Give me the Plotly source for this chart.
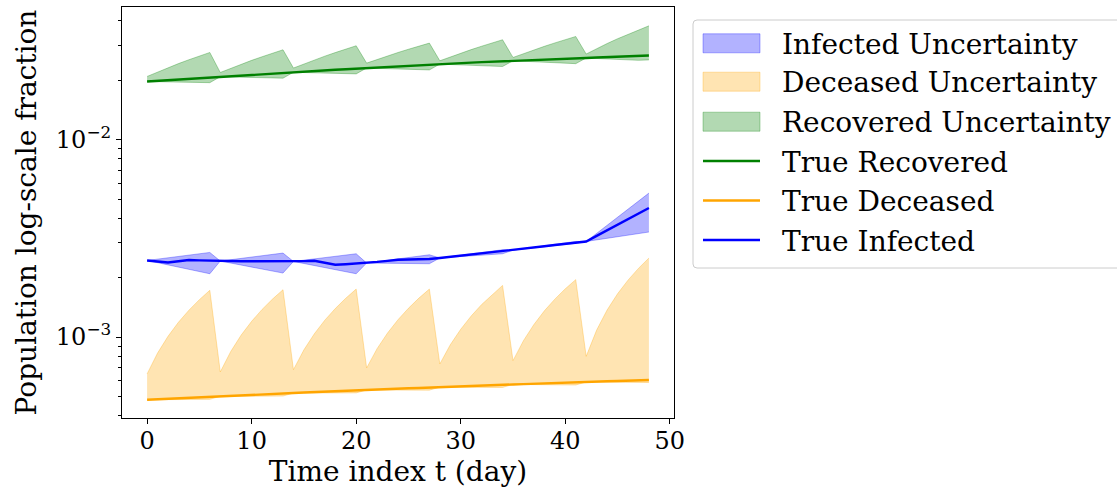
import plotly.graph_objects as go

days = list(range(49))

true_recovered = [
    0.01974, 0.01990, 0.02006, 0.02022, 0.02038, 0.02055, 0.02071,
    0.02087, 0.02103, 0.02119, 0.02135, 0.02151, 0.02167, 0.02183,
    0.02199, 0.02215, 0.02231, 0.02247, 0.02263, 0.02279, 0.02295,
    0.02311, 0.02327, 0.02343, 0.02358, 0.02373, 0.02388, 0.02403,
    0.02418, 0.02432, 0.02446, 0.02460, 0.02474, 0.02488, 0.02501,
    0.02514, 0.02527, 0.02539, 0.02551, 0.02563, 0.02575, 0.02586,
    0.02597, 0.02610, 0.02622, 0.02635, 0.02648, 0.02660, 0.02673]

recovered_upper = [
    0.02094, 0.02207, 0.02319, 0.02432, 0.02545, 0.02657, 0.02770,
    0.02193, 0.02304, 0.02415, 0.02526, 0.02636, 0.02747, 0.02858,
    0.02310, 0.02424, 0.02538, 0.02653, 0.02767, 0.02881, 0.02995,
    0.02447, 0.02554, 0.02661, 0.02769, 0.02876, 0.02983, 0.03090,
    0.02514, 0.02631, 0.02747, 0.02864, 0.02980, 0.03097, 0.03213,
    0.02614, 0.02735, 0.02855, 0.02976, 0.03097, 0.03217, 0.03338,
    0.02720, 0.02897, 0.03074, 0.03251, 0.03427, 0.03604, 0.03781]

recovered_lower = [
    0.01974, 0.01970, 0.01966, 0.01961, 0.01956, 0.01952, 0.01947,
    0.02087, 0.02082, 0.02077, 0.02071, 0.02065, 0.02059, 0.02052,
    0.02199, 0.02193, 0.02186, 0.02180, 0.02172, 0.02165, 0.02157,
    0.02311, 0.02304, 0.02296, 0.02287, 0.02278, 0.02269, 0.02259,
    0.02418, 0.02408, 0.02397, 0.02386, 0.02375, 0.02364, 0.02351,
    0.02514, 0.02502, 0.02488, 0.02474, 0.02460, 0.02446, 0.02431,
    0.02597, 0.02584, 0.02570, 0.02556, 0.02542, 0.02527, 0.02540]

true_infected = [
    0.002444, 0.002416, 0.002388, 0.002422, 0.002456, 0.002446, 0.002436,
    0.002427, 0.002425, 0.002423, 0.002421, 0.002419, 0.002417, 0.002416,
    0.002416, 0.002426, 0.002436, 0.002380, 0.002325, 0.002340, 0.002356,
    0.002372, 0.002403, 0.002434, 0.002465, 0.002472, 0.002478, 0.002485,
    0.002517, 0.002550, 0.002583, 0.002616, 0.002649, 0.002683, 0.002716,
    0.002757, 0.002798, 0.002840, 0.002883, 0.002927, 0.002971, 0.003016,
    0.003051, 0.003256, 0.003475, 0.003708, 0.003958, 0.004224, 0.004506]

infected_upper = [
    0.002444, 0.002482, 0.002521, 0.002561, 0.002602, 0.002643, 0.002684,
    0.002427, 0.002465, 0.002504, 0.002544, 0.002584, 0.002624, 0.002665,
    0.002416, 0.002452, 0.002489, 0.002527, 0.002565, 0.002604, 0.002643,
    0.002372, 0.002410, 0.002449, 0.002489, 0.002529, 0.002570, 0.002612,
    0.002517, 0.002558, 0.002599, 0.002640, 0.002683, 0.002726, 0.002770,
    0.002757, 0.002804, 0.002851, 0.002900, 0.002950, 0.003001, 0.003052,
    0.003051, 0.003352, 0.003683, 0.004047, 0.004446, 0.004885, 0.005367]

infected_lower = [
    0.002444, 0.002382, 0.002321, 0.002262, 0.002204, 0.002148, 0.002093,
    0.002427, 0.002371, 0.002316, 0.002263, 0.002211, 0.002160, 0.002110,
    0.002416, 0.002359, 0.002303, 0.002249, 0.002196, 0.002144, 0.002093,
    0.002372, 0.002369, 0.002365, 0.002362, 0.002359, 0.002355, 0.002352,
    0.002517, 0.002538, 0.002558, 0.002579, 0.002600, 0.002622, 0.002643,
    0.002757, 0.002793, 0.002830, 0.002868, 0.002907, 0.002946, 0.002986,
    0.003051, 0.003107, 0.003165, 0.003224, 0.003283, 0.003344, 0.003406]

true_deceased = [
    0.000481, 0.000484, 0.000487, 0.000490, 0.000493, 0.000495, 0.000498,
    0.000501, 0.000504, 0.000507, 0.000509, 0.000512, 0.000515, 0.000518,
    0.000520, 0.000523, 0.000526, 0.000529, 0.000531, 0.000534, 0.000537,
    0.000539, 0.000542, 0.000545, 0.000547, 0.000550, 0.000552, 0.000555,
    0.000557, 0.000560, 0.000562, 0.000565, 0.000567, 0.000570, 0.000572,
    0.000575, 0.000577, 0.000580, 0.000582, 0.000585, 0.000587, 0.000589,
    0.000592, 0.000594, 0.000597, 0.000599, 0.000601, 0.000604, 0.000606]

deceased_upper = [
    0.000650, 0.000829, 0.001008, 0.001188, 0.001367, 0.001546, 0.001725,
    0.000665, 0.000844, 0.001023, 0.001201, 0.001380, 0.001558, 0.001737,
    0.000683, 0.000861, 0.001039, 0.001217, 0.001394, 0.001572, 0.001750,
    0.000697, 0.000873, 0.001048, 0.001224, 0.001399, 0.001575, 0.001750,
    0.000730, 0.000913, 0.001095, 0.001278, 0.001461, 0.001643, 0.001826,
    0.000759, 0.000958, 0.001157, 0.001357, 0.001556, 0.001755, 0.001954,
    0.000798, 0.001084, 0.001370, 0.001656, 0.001942, 0.002228, 0.002514]

deceased_lower = [
    0.000481, 0.000482, 0.000482, 0.000483, 0.000483, 0.000483, 0.000483,
    0.000501, 0.000501, 0.000502, 0.000501, 0.000502, 0.000502, 0.000502,
    0.000520, 0.000520, 0.000521, 0.000521, 0.000520, 0.000521, 0.000521,
    0.000539, 0.000539, 0.000540, 0.000539, 0.000539, 0.000538, 0.000538,
    0.000557, 0.000557, 0.000556, 0.000557, 0.000556, 0.000556, 0.000555,
    0.000575, 0.000574, 0.000574, 0.000573, 0.000573, 0.000572, 0.000571,
    0.000592, 0.000591, 0.000591, 0.000590, 0.000589, 0.000589, 0.000588]

y_major_vals = [0.001, 0.01]
y_major_text = ["10<sup>\u22123</sup>", "10<sup>\u22122</sup>"]
y_minor_vals = [0.0004, 0.0005, 0.0006, 0.0007, 0.0008, 0.0009,
                0.002, 0.003, 0.004, 0.005, 0.006, 0.007, 0.008, 0.009,
                0.02, 0.03, 0.04]
x_tick_vals = [0, 10, 20, 30, 40, 50]

legend_labels = ["Infected Uncertainty", "Deceased Uncertainty", "Recovered Uncertainty",
                 "True Recovered", "True Deceased", "True Infected"]

FONT = "DejaVu Serif"
BLUE_A = "rgba(0,0,255,0.3)"
ORANGE_A = "rgba(255,165,0,0.3)"
GREEN_A = "rgba(0,128,0,0.3)"
GREEN, ORANGE, BLUE = "#008000", "#FFA500", "#0000FF"

# plot area in pixels
L, R, T, B = 122, 674, 7, 418
W, H = 1117, 489


def px(x):
    return (x - L) / (R - L)


def py(y):
    return (B - y) / (B - T)


fig = go.Figure()


def add_band(lower, upper, rgba, name):
    fig.add_trace(go.Scatter(
        x=days, y=lower, mode="lines", line=dict(color=rgba, width=1),
        showlegend=False, hoverinfo="skip", legendgroup=name))
    fig.add_trace(go.Scatter(
        x=days, y=upper, mode="lines", line=dict(color=rgba, width=1),
        fill="tonexty", fillcolor=rgba, name=name, legendgroup=name))


add_band(infected_lower, infected_upper, BLUE_A, legend_labels[0])
add_band(deceased_lower, deceased_upper, ORANGE_A, legend_labels[1])
add_band(recovered_lower, recovered_upper, GREEN_A, legend_labels[2])

fig.add_trace(go.Scatter(x=days, y=true_recovered, mode="lines",
                         line=dict(color=GREEN, width=2.4), name=legend_labels[3]))
fig.add_trace(go.Scatter(x=days, y=true_deceased, mode="lines",
                         line=dict(color=ORANGE, width=2.4), name=legend_labels[4]))
fig.add_trace(go.Scatter(x=days, y=true_infected, mode="lines",
                         line=dict(color=BLUE, width=2.4), name=legend_labels[5]))

# ---- manual legend (matplotlib style) ----
shapes = []
annotations = []
bx0, bx1, by0, by1, rad = 693, 1130, 20, 268, 4
path = (f"M{px(bx0 + rad)},{py(by0)} L{px(bx1)},{py(by0)} L{px(bx1)},{py(by1)} "
        f"L{px(bx0 + rad)},{py(by1)} Q{px(bx0)},{py(by1)} {px(bx0)},{py(by1 - rad)} "
        f"L{px(bx0)},{py(by0 + rad)} Q{px(bx0)},{py(by0)} {px(bx0 + rad)},{py(by0)} Z")
shapes.append(dict(type="path", xref="paper", yref="paper", path=path,
                   fillcolor="rgba(255,255,255,0.8)", line=dict(color="#cccccc", width=1),
                   layer="above"))
row_y = [43.3, 81.7, 121.7, 161.0, 200.5, 240.0]
fills = [BLUE_A, ORANGE_A, GREEN_A]
lines = [GREEN, ORANGE, BLUE]
for i, label in enumerate(legend_labels):
    yc = row_y[i]
    if i < 3:
        shapes.append(dict(type="rect", xref="paper", yref="paper",
                           x0=px(703), x1=px(760), y0=py(yc - 9.5), y1=py(yc + 9.5),
                           fillcolor=fills[i], line=dict(color=fills[i], width=1),
                           layer="above"))
    else:
        shapes.append(dict(type="line", xref="paper", yref="paper",
                           x0=px(703), x1=px(760), y0=py(yc), y1=py(yc),
                           line=dict(color=lines[i - 3], width=2.4), layer="above"))
    annotations.append(dict(xref="paper", yref="paper", x=px(780), y=py(yc + 1),
                            xanchor="left", yanchor="middle", showarrow=False,
                            text=label, font=dict(family=FONT, size=28, color="black")))

fig.update_layout(
    width=W, height=H,
    margin=dict(l=L, r=W - R, t=T, b=H - B),
    paper_bgcolor="white", plot_bgcolor="white",
    font=dict(family=FONT, size=24, color="black"),
    showlegend=False,
    shapes=shapes, annotations=annotations,
)

fig.update_xaxes(
    range=[-2.4, 50.4], tickmode="array", tickvals=x_tick_vals,
    ticks="outside", ticklen=5, tickwidth=1.1, tickcolor="black",
    showline=True, linecolor="black", linewidth=1.1, mirror=True,
    showgrid=False, zeroline=False, ticklabelstandoff=-4,
    tickfont=dict(family=FONT, size=24, color="black"),
    title=dict(text="Time index t (day)", font=dict(family=FONT, size=28, color="black"), standoff=2),
)
fig.update_yaxes(
    type="log", range=[-3.4105, -1.327],
    tickmode="array", tickvals=y_major_vals, ticktext=y_major_text,
    ticks="outside", ticklen=5, tickwidth=1.1, tickcolor="black",
    minor=dict(tickmode="array", tickvals=y_minor_vals, ticks="outside",
               ticklen=3, tickwidth=0.8, tickcolor="black", showgrid=False),
    showline=True, linecolor="black", linewidth=1.1, mirror=True,
    showgrid=False, zeroline=False,
    tickfont=dict(family=FONT, size=24, color="black"),
    title=dict(text="Population log-scale fraction", font=dict(family=FONT, size=28, color="black"), standoff=11),
)

fig.write_html("out.html", post_script="document.body.style.margin='0';",
               config={"displayModeBar": False})
